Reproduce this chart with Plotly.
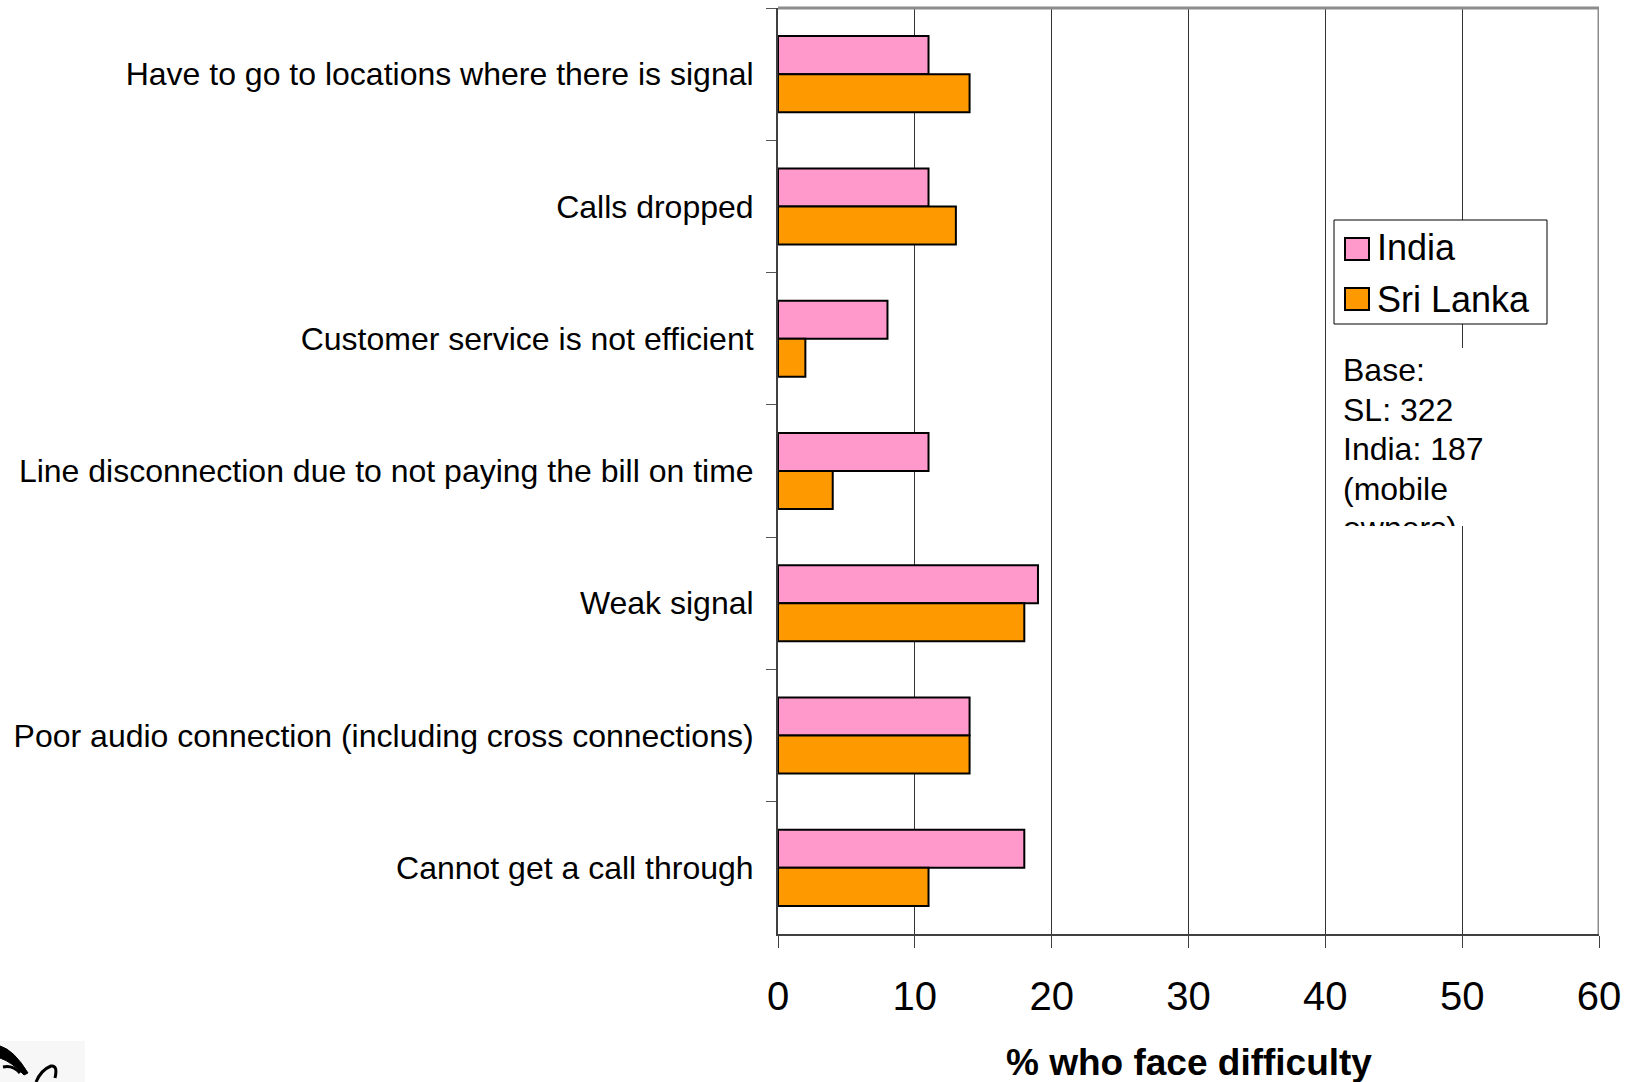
import plotly.graph_objects as go

# Survey results: share of mobile owners reporting each difficulty (%)
categories = [
    "Have to go to locations where there is signal",
    "Calls dropped",
    "Customer service is not efficient",
    "Line disconnection due to not paying the bill on time",
    "Weak signal",
    "Poor audio connection (including cross connections)",
    "Cannot get a call through",
]
india = [11, 11, 8, 11, 19, 14, 18]
sri_lanka = [14, 13, 2, 4, 18, 14, 11]

series_names = ["India", "Sri Lanka"]
series_colors = ["#FF99CC", "#FF9900"]

x_ticks = [0, 10, 20, 30, 40, 50, 60]
x_title = "% who face difficulty"
base_lines = ["Base:", "SL: 322", "India: 187", "(mobile", "owners)"]

FONT = "Arial, Liberation Sans, sans-serif"
W, H = 1633, 1082
ML, MR, MT, MB = 778, 34, 8, 148
PW, PH = W - ML - MR, H - MT - MB


def px(xp, yp):
    """Convert page pixel position to paper coordinates."""
    return (xp - ML) / PW, (H - MB - yp) / PH


fig = go.Figure()

for name, vals, color in zip(series_names, [india, sri_lanka], series_colors):
    fig.add_trace(go.Bar(
        name=name, y=categories, x=vals, orientation="h",
        marker=dict(color=color, line=dict(color="black", width=2)),
        showlegend=False, hoverinfo="x+y+name",
    ))

# Text block for the sample sizes, clipped inside its own white panel
x0p, y0p, x1p, y1p = 1337, 348, 1500, 526
bx0, by1 = px(x0p, y0p)
bx1, by0 = px(x1p, y1p)
fig.add_trace(go.Scatter(
    x=[6] * len(base_lines),
    y=[25 + i * 39.5 for i in range(len(base_lines))],
    text=base_lines, mode="text", textposition="middle right",
    textfont=dict(family=FONT, size=32, color="black"),
    cliponaxis=True, showlegend=False, hoverinfo="skip",
    xaxis="x2", yaxis="y2",
))

shapes = []
# Right and top frame of the plot area
shapes.append(dict(type="line", xref="x", yref="paper", x0=60, x1=60, y0=0, y1=1,
                   line=dict(color="#8C8C8C", width=3), layer="above"))
shapes.append(dict(type="line", xref="paper", yref="paper", x0=0, x1=1, y0=1, y1=1,
                   line=dict(color="#8C8C8C", width=3), layer="above"))

# Legend box with swatches
lx0, ly1 = px(1334, 220)
lx1, ly0 = px(1547, 324)
shapes.append(dict(type="rect", xref="paper", yref="paper", x0=lx0, x1=lx1, y0=ly0, y1=ly1,
                   fillcolor="white", line=dict(color="black", width=1), layer="above"))
annotations = []
for i, (name, color) in enumerate(zip(series_names, series_colors)):
    cy = 249 + i * 50
    sx0, sy1 = px(1345, cy - 11)
    sx1, sy0 = px(1369, cy + 11)
    shapes.append(dict(type="rect", xref="paper", yref="paper", x0=sx0, x1=sx1, y0=sy0, y1=sy1,
                       fillcolor=color, line=dict(color="black", width=2), layer="above"))
    tx, ty = px(1375, cy - (2 if i == 0 else 0))
    annotations.append(dict(xref="paper", yref="paper", x=tx, y=ty, text=name,
                            xanchor="left", yanchor="middle", showarrow=False,
                            font=dict(family=FONT, size=36, color="black")))

# Axis title
tx, ty = px(ML + PW / 2, 1062)
annotations.append(dict(xref="paper", yref="paper", x=tx, y=ty, text="<b>%s</b>" % x_title,
                        xanchor="center", yanchor="middle", showarrow=False,
                        font=dict(family=FONT, size=37, color="black")))

# Small logo mark in the lower-left corner
def path_px(points_cmds):
    out = []
    for cmd in points_cmds:
        if isinstance(cmd, str):
            out.append(cmd)
        else:
            a, b = px(*cmd)
            out.append("%.5f,%.5f" % (a, b))
    return " ".join(out)


gx0, gy1 = px(0, 1041)
gx1, gy0 = px(85, 1082)
shapes.append(dict(type="rect", xref="paper", yref="paper", x0=gx0, x1=gx1, y0=gy0, y1=gy1,
                   fillcolor="#F7F7F7", line=dict(width=0), layer="above"))
shapes.append(dict(type="path", xref="paper", yref="paper", layer="above",
                   path=path_px(["M", (0, 1046), "Q", (14, 1050), (28, 1073), "L", (24, 1075),
                                 "Q", (12, 1062), (0, 1058), "Z"]),
                   fillcolor="black", line=dict(color="black", width=1)))
shapes.append(dict(type="path", xref="paper", yref="paper", layer="above",
                   path=path_px(["M", (3, 1067), "Q", (13, 1065), (20, 1073)]),
                   line=dict(color="black", width=3)))
shapes.append(dict(type="path", xref="paper", yref="paper", layer="above",
                   path=path_px(["M", (36, 1082), "Q", (41, 1070), (51, 1066), "Q", (58, 1065), (55, 1078)]),
                   line=dict(color="black", width=3)))

fig.update_layout(
    width=W, height=H,
    margin=dict(l=ML, r=MR, t=MT, b=MB, pad=0),
    paper_bgcolor="white", plot_bgcolor="white",
    barmode="group", bargap=0.425, bargroupgap=0,
    showlegend=False,
    font=dict(family=FONT, color="black"),
    xaxis=dict(
        range=[0, 60], tickvals=x_ticks, ticktext=[str(v) for v in x_ticks],
        showgrid=True, gridcolor="#333333", gridwidth=1, zeroline=False,
        showline=True, linecolor="#404040", linewidth=2,
        ticks="outside", ticklen=12, tickcolor="#404040", tickwidth=1,
        tickfont=dict(family=FONT, size=40, color="black"),
        ticklabelstandoff=14,
    ),
    yaxis=dict(
        type="category", categoryorder="array", categoryarray=categories,
        autorange="reversed", showgrid=False, zeroline=False,
        showline=True, linecolor="#404040", linewidth=2,
        ticks="outside", tickson="boundaries", ticklen=10, tickcolor="#555555",
        tickfont=dict(family=FONT, size=32, color="black"),
        ticklabelstandoff=16,
    ),
    xaxis2=dict(domain=[bx0, bx1], range=[0, x1p - x0p], visible=False, anchor="y2",
                fixedrange=True),
    yaxis2=dict(domain=[by0, by1], range=[y1p - y0p, 0], visible=False, anchor="x2",
                fixedrange=True),
    shapes=shapes,
    annotations=annotations,
)

fig.write_html("out.html")
